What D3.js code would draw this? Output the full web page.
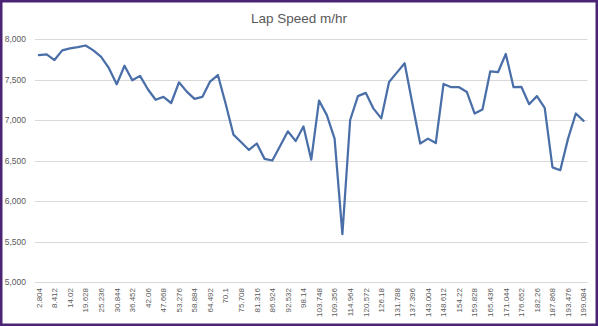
<!DOCTYPE html>
<html>
<head>
<meta charset="utf-8">
<script src="https://cdn.jsdelivr.net/npm/d3@7"></script>
<style>
  html, body { margin: 0; padding: 0; background: #fff; }
  svg { display: block; }
</style>
</head>
<body>
<svg id="chart" width="598" height="326"></svg>
<script>
// Distance markers (category axis)
const distances = [
  "2.804", "5.608", "8.412", "11.216", "14.02", "16.824", "19.628", "22.432",
  "25.236", "28.04", "30.844", "33.648", "36.452", "39.256", "42.06", "44.864",
  "47.668", "50.472", "53.276", "56.08", "58.884", "61.688", "64.492", "67.296",
  "70.1", "72.904", "75.708", "78.512", "81.316", "84.12", "86.924", "89.728",
  "92.532", "95.336", "98.14", "100.944", "103.748", "106.552", "109.356", "112.16",
  "114.964", "117.768", "120.572", "123.376", "126.18", "128.984", "131.788", "134.592",
  "137.396", "140.2", "143.004", "145.808", "148.612", "151.416", "154.22", "157.024",
  "159.828", "162.632", "165.436", "168.24", "171.044", "173.848", "176.652", "179.456",
  "182.26", "185.064", "187.868", "190.672", "193.476", "196.28", "199.084"
];

// Lap speed at each marker, m/hr
const lapSpeed = [
  7800, 7810, 7740, 7860, 7885, 7900, 7920, 7860,
  7780, 7640, 7440, 7670, 7490, 7545, 7380, 7250,
  7285, 7210, 7465, 7350, 7260, 7285, 7475, 7555,
  7200, 6820, 6725, 6630, 6710, 6520, 6500, 6680,
  6860, 6740, 6920, 6510, 7240, 7060, 6770, 5590,
  7000, 7295, 7335, 7140, 7020, 7470, 7585, 7700,
  7200, 6710, 6770, 6715, 7445, 7405, 7405, 7345,
  7080, 7130, 7600, 7590, 7815, 7405, 7410, 7195,
  7295, 7150, 6415, 6380, 6770, 7080, 6990
];

// Value axis ticks
const yTicks = [5000, 5500, 6000, 6500, 7000, 7500, 8000];

const chartTitle = "Lap Speed m/hr";

const W = 598, H = 326;
const plot = { left: 35, right: 587.5, top: 39, bottom: 282 };

const svg = d3.select("#chart");

// background and frame
svg.append("rect")
  .attr("x", 1.25).attr("y", 1.25)
  .attr("width", W - 2.5).attr("height", H - 2.5)
  .attr("fill", "#fff")
  .attr("stroke", "#4b2475")
  .attr("stroke-width", 2.5);

const x = d3.scaleBand()
  .domain(distances)
  .range([plot.left, plot.right])
  .paddingInner(0).paddingOuter(0);

const y = d3.scaleLinear()
  .domain([5000, 8000])
  .range([plot.bottom, plot.top]);

const font = "'Liberation Sans', Arial, sans-serif";

// horizontal gridlines
svg.append("g")
  .selectAll("line")
  .data(yTicks)
  .join("line")
  .attr("x1", plot.left).attr("x2", plot.right)
  .attr("y1", d => Math.round(y(d)) + 0.5)
  .attr("y2", d => Math.round(y(d)) + 0.5)
  .attr("stroke", "#d9d9d9")
  .attr("stroke-width", 1);

// y axis labels
const yAxis = d3.axisLeft(y)
  .tickValues(yTicks)
  .tickFormat(d3.format(","))
  .tickSize(0)
  .tickPadding(9);

const gy = svg.append("g")
  .attr("transform", `translate(${plot.left},0)`)
  .call(yAxis);
gy.select(".domain").remove();
gy.selectAll("text")
  .attr("fill", "#595959")
  .style("font-family", font)
  .style("font-size", "8.5px");

// x axis labels: every other marker, rotated
const xAxis = d3.axisBottom(x)
  .tickValues(distances.filter((d, i) => i % 2 === 0))
  .tickSize(0)
  .tickPadding(0);

const gx = svg.append("g")
  .attr("transform", `translate(0,${plot.bottom})`)
  .call(xAxis);
gx.select(".domain").remove();
gx.selectAll("text")
  .attr("fill", "#595959")
  .style("font-family", font)
  .style("font-size", "8px")
  .attr("text-anchor", "end")
  .attr("transform", "rotate(-90)")
  .attr("x", -6)
  .attr("y", 0)
  .attr("dy", "0.35em");

// speed line
const line = d3.line()
  .x((d, i) => x(distances[i]) + x.bandwidth() / 2)
  .y(d => y(d));

svg.append("path")
  .datum(lapSpeed)
  .attr("d", line)
  .attr("fill", "none")
  .attr("stroke", "#4a6fa8")
  .attr("stroke-width", 2.25)
  .attr("stroke-linejoin", "round")
  .attr("stroke-linecap", "round");

// title
svg.append("text")
  .attr("x", W / 2)
  .attr("y", 23)
  .attr("text-anchor", "middle")
  .attr("fill", "#595959")
  .style("font-family", font)
  .style("font-size", "13.5px")
  .text(chartTitle);
</script>
</body>
</html>
